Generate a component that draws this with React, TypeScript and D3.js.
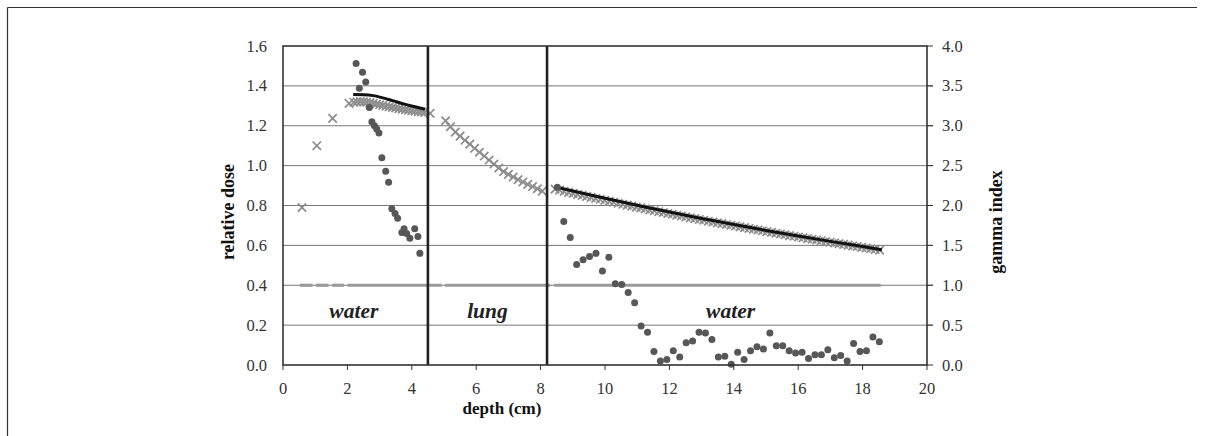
import React from "react";
import * as d3 from "d3";

// Depth–dose comparison through a water / lung / water phantom with gamma index.

const xTicks = [0, 2, 4, 6, 8, 10, 12, 14, 16, 18, 20];
const doseTicks = [0, 0.2, 0.4, 0.6, 0.8, 1.0, 1.2, 1.4, 1.6];
const gammaTicks = [0, 0.5, 1.0, 1.5, 2.0, 2.5, 3.0, 3.5, 4.0];

// Tissue boundaries (cm)
const boundaries = [4.5, 8.2];

// Region labels
const regionNames = ["water", "lung", "water"];
const regionDepths = [2.2, 6.35, 13.9];

// Measured dose (crosses)
const measDepthWaterA = [0.59, 1.05, 1.54, 2.05, 2.2, 2.3, 2.4, 2.5, 2.6, 2.7, 2.8, 2.9, 3.0, 3.1, 3.2, 3.3, 3.4, 3.5, 3.6, 3.7, 3.8, 3.9, 4.0, 4.1, 4.2, 4.3, 4.4];
const measDoseWaterA = [0.79, 1.1, 1.237, 1.312, 1.318, 1.32, 1.321, 1.32, 1.318, 1.316, 1.313, 1.309, 1.305, 1.302, 1.298, 1.295, 1.292, 1.289, 1.286, 1.283, 1.28, 1.278, 1.276, 1.273, 1.271, 1.269, 1.267];

const measDepthLung = [4.57, 5.05, 5.2, 5.35, 5.5, 5.65, 5.8, 5.95, 6.1, 6.25, 6.4, 6.55, 6.7, 6.85, 7.0, 7.15, 7.3, 7.45, 7.6, 7.75, 7.9, 8.05];
const measDoseLung = [1.262, 1.225, 1.195, 1.168, 1.148, 1.127, 1.108, 1.087, 1.067, 1.048, 1.028, 1.008, 0.988, 0.97, 0.956, 0.943, 0.93, 0.918, 0.906, 0.895, 0.884, 0.872];

const measDepthWaterB = [8.45, 8.59, 8.73, 8.87, 9.01, 9.15, 9.29, 9.43, 9.57, 9.71, 9.85, 9.99, 10.13, 10.27, 10.41, 10.55, 10.69, 10.83, 10.97, 11.11, 11.25, 11.39, 11.53, 11.67, 11.81, 11.95, 12.09, 12.23, 12.37, 12.51, 12.65, 12.79, 12.93, 13.07, 13.21, 13.35, 13.49, 13.63, 13.77, 13.91, 14.05, 14.19, 14.33, 14.47, 14.61, 14.75, 14.89, 15.03, 15.17, 15.31, 15.45, 15.59, 15.73, 15.87, 16.01, 16.15, 16.29, 16.43, 16.57, 16.71, 16.85, 16.99, 17.13, 17.27, 17.41, 17.55, 17.69, 17.83, 17.97, 18.11, 18.25, 18.39, 18.53];
const measDoseWaterB = [0.882, 0.877, 0.871, 0.866, 0.861, 0.856, 0.851, 0.846, 0.841, 0.835, 0.831, 0.826, 0.821, 0.816, 0.811, 0.806, 0.802, 0.797, 0.792, 0.788, 0.783, 0.778, 0.774, 0.769, 0.765, 0.76, 0.756, 0.751, 0.747, 0.743, 0.738, 0.734, 0.73, 0.726, 0.721, 0.717, 0.713, 0.709, 0.705, 0.701, 0.697, 0.693, 0.689, 0.685, 0.681, 0.677, 0.673, 0.669, 0.665, 0.661, 0.657, 0.653, 0.649, 0.646, 0.642, 0.638, 0.634, 0.631, 0.627, 0.623, 0.619, 0.616, 0.612, 0.609, 0.605, 0.601, 0.597, 0.594, 0.59, 0.587, 0.583, 0.58, 0.576];

// Calculated dose (black line), water segments only
const calcDepthA = [2.18, 2.5, 2.8, 3.1, 3.4, 3.8, 4.1, 4.41];
const calcDoseA = [1.357, 1.356, 1.351, 1.34, 1.326, 1.307, 1.295, 1.283];
const calcDepthB = [8.45, 9.0, 10.0, 11.0, 12.0, 13.0, 14.0, 15.0, 16.0, 17.0, 18.0, 18.6];
const calcDoseB = [0.894, 0.873, 0.836, 0.801, 0.767, 0.735, 0.705, 0.675, 0.647, 0.62, 0.594, 0.578];

// Gamma index (dots)
const gammaDepthA = [2.27, 2.47, 2.57, 2.37, 2.68, 2.76, 2.84, 2.91, 2.98, 3.07, 3.19, 3.28, 3.38, 3.48, 3.56, 3.69, 3.76, 3.84, 3.94, 4.09, 4.19, 4.25];
const gammaValA = [3.78, 3.67, 3.55, 3.47, 3.23, 3.05, 3.0, 2.96, 2.91, 2.6, 2.43, 2.29, 1.96, 1.9, 1.84, 1.66, 1.71, 1.65, 1.59, 1.71, 1.61, 1.4];
const gammaDepthB = [8.52, 8.72, 8.92, 9.12, 9.32, 9.52, 9.72, 9.92, 10.12, 10.32, 10.52, 10.72, 10.92, 11.12, 11.32, 11.52, 11.72, 11.92, 12.12, 12.32, 12.52, 12.72, 12.92, 13.12, 13.32, 13.52, 13.72, 13.92, 14.12, 14.32, 14.52, 14.72, 14.92, 15.12, 15.32, 15.52, 15.72, 15.92, 16.12, 16.32, 16.52, 16.72, 16.92, 17.12, 17.32, 17.52, 17.72, 17.92, 18.12, 18.32, 18.52];
const gammaValB = [2.23, 1.8, 1.6, 1.26, 1.32, 1.36, 1.4, 1.18, 1.35, 1.02, 1.01, 0.91, 0.78, 0.49, 0.41, 0.17, 0.05, 0.07, 0.18, 0.1, 0.28, 0.3, 0.41, 0.4, 0.32, 0.1, 0.11, 0.01, 0.16, 0.07, 0.18, 0.23, 0.2, 0.4, 0.24, 0.24, 0.18, 0.15, 0.16, 0.08, 0.13, 0.13, 0.19, 0.09, 0.12, 0.05, 0.27, 0.17, 0.18, 0.35, 0.29];

// Gamma = 1 pass criterion, drawn as marker dashes
const passLevel = 1.0;
const passSpanStart = [0.53, 1.02, 1.53, 2.0, 5.03, 8.42];
const passSpanEnd = [0.92, 1.41, 1.89, 4.93, 8.3, 18.56];

const W = 1205;
const H = 436;
const M = { left: 283, right: 927, top: 46, bottom: 365 };

const FONT = "'Liberation Serif', 'DejaVu Serif', serif";

export default function App() {
  const x = d3.scaleLinear().domain([0, 20]).range([M.left, M.right]);
  const yDose = d3.scaleLinear().domain([0, 1.6]).range([M.bottom, M.top]);
  const yGamma = d3.scaleLinear().domain([0, 4]).range([M.bottom, M.top]);

  const calcLine = d3
    .line<[number, number]>()
    .x((d) => x(d[0]))
    .y((d) => yDose(d[1]))
    .curve(d3.curveMonotoneX);

  const zip = (a: number[], b: number[]) => a.map((v, i) => [v, b[i]] as [number, number]);

  const crosses = [
    ...zip(measDepthWaterA, measDoseWaterA),
    ...zip(measDepthLung, measDoseLung),
    ...zip(measDepthWaterB, measDoseWaterB),
  ];
  const gammaPts = [...zip(gammaDepthA, gammaValA), ...zip(gammaDepthB, gammaValB)];
  const cs = 4.2;

  return (
    <svg
      width={W}
      height={H}
      style={{ position: "absolute", left: 0, top: 0, background: "#fff" }}
      fontFamily={FONT}
    >
      {/* figure frame */}
      <line x1={7.5} y1={7.5} x2={1197} y2={7.5} stroke="#333" strokeWidth={1.2} />
      <line x1={7.5} y1={7.5} x2={7.5} y2={H} stroke="#333" strokeWidth={1.2} />

      {/* horizontal gridlines */}
      {doseTicks.slice(1, -1).map((t) => (
        <line
          key={"g" + t}
          x1={M.left}
          x2={M.right + 6}
          y1={yDose(t)}
          y2={yDose(t)}
          stroke="#777"
          strokeWidth={1}
        />
      ))}

      {/* gamma = 1 reference */}
      {passSpanStart.map((s, i) => (
        <line
          key={"p" + i}
          x1={x(s)}
          x2={x(passSpanEnd[i])}
          y1={yGamma(passLevel)}
          y2={yGamma(passLevel)}
          stroke="#9a9a9a"
          strokeWidth={3.2}
        />
      ))}

      {/* measured dose */}
      {crosses.map(([d, v], i) => (
        <path
          key={"c" + i}
          transform={`translate(${x(d)},${yDose(v)})`}
          d={`M${-cs},${-cs}L${cs},${cs}M${-cs},${cs}L${cs},${-cs}`}
          stroke="#8c8c8c"
          strokeWidth={1.7}
          fill="none"
        />
      ))}

      {/* calculated dose */}
      <path d={calcLine(zip(calcDepthA, calcDoseA)) || ""} stroke="#111" strokeWidth={3} fill="none" />
      <path d={calcLine(zip(calcDepthB, calcDoseB)) || ""} stroke="#111" strokeWidth={3} fill="none" />

      {/* gamma index */}
      {gammaPts.map(([d, g], i) => (
        <circle key={"d" + i} cx={x(d)} cy={yGamma(g)} r={3.5} fill="#575757" />
      ))}

      {/* tissue boundaries */}
      {boundaries.map((b) => (
        <line key={"b" + b} x1={x(b)} x2={x(b)} y1={M.top} y2={M.bottom} stroke="#222" strokeWidth={2.6} />
      ))}

      {/* region labels */}
      {regionNames.map((n, i) => (
        <text
          key={"r" + i}
          x={x(regionDepths[i])}
          y={318}
          textAnchor="middle"
          fontSize={21.5}
          fontWeight="bold"
          fontStyle="italic"
          fill="#222"
        >
          {n}
        </text>
      ))}

      {/* plot frame */}
      <rect
        x={M.left}
        y={M.top}
        width={M.right - M.left}
        height={M.bottom - M.top}
        fill="none"
        stroke="#333"
        strokeWidth={1.6}
      />

      {/* x ticks */}
      {xTicks.map((t) => (
        <g key={"x" + t}>
          <line x1={x(t)} x2={x(t)} y1={M.bottom} y2={M.bottom + 5} stroke="#333" strokeWidth={1} />
          <text x={x(t)} y={394} textAnchor="middle" fontSize={16.5} fill="#333">
            {t}
          </text>
        </g>
      ))}

      {/* left axis labels */}
      {doseTicks.map((t) => (
        <text key={"l" + t} x={267} y={yDose(t) + 5.5} textAnchor="end" fontSize={16.5} fill="#333">
          {t.toFixed(1)}
        </text>
      ))}

      {/* right axis ticks and labels */}
      {gammaTicks.map((t) => (
        <g key={"r" + t}>
          <line x1={M.right} x2={M.right + 6} y1={yGamma(t)} y2={yGamma(t)} stroke="#333" strokeWidth={1} />
          <text x={942} y={yGamma(t) + 5.5} textAnchor="start" fontSize={16.5} fill="#333">
            {t.toFixed(1)}
          </text>
        </g>
      ))}

      {/* axis titles */}
      <text
        transform={`translate(234,212) rotate(-90)`}
        textAnchor="middle"
        fontSize={18}
        fontWeight="bold"
        fill="#111"
      >
        relative dose
      </text>
      <text
        transform={`translate(1002,222) rotate(-90)`}
        textAnchor="middle"
        fontSize={18}
        fontWeight="bold"
        fill="#111"
      >
        gamma index
      </text>
      <text x={502} y={414} textAnchor="middle" fontSize={17} fontWeight="bold" fill="#111">
        depth (cm)
      </text>
    </svg>
  );
}
